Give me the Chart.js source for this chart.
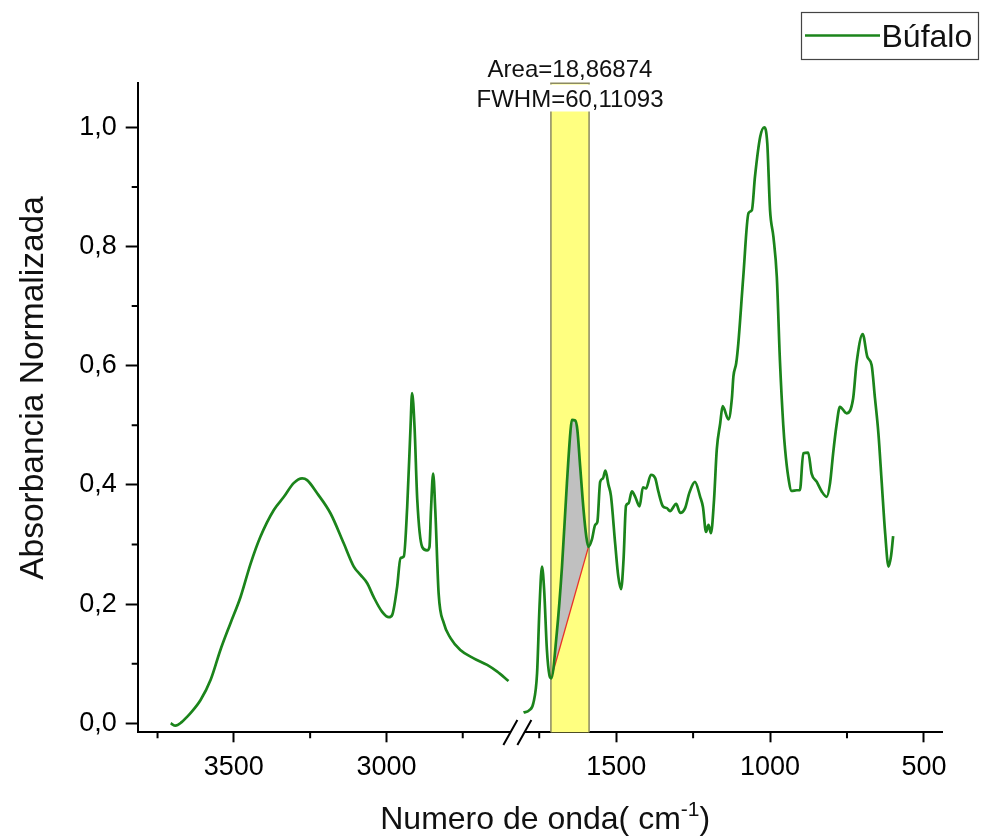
<!DOCTYPE html>
<html>
<head>
<meta charset="utf-8">
<script src="https://cdn.jsdelivr.net/npm/chart.js@4.4.1/dist/chart.umd.min.js"></script>
<style>
  html, body { margin: 0; padding: 0; background: #fff; }
  canvas { display: block; }
</style>
</head>
<body>
<canvas id="ftir" width="981" height="838"></canvas>
<script>
// espectro FTIR normalizado - region alta (O-H / C-H)
const waveHigh = [3707, 3691, 3671, 3655, 3642, 3609, 3576, 3544, 3511, 3478, 3445, 3413, 3369, 3336, 3304,
  3276, 3260, 3227, 3183, 3140, 3107, 3085, 3063, 3042, 3014, 2992, 2981, 2965, 2954, 2943,
  2932, 2921, 2916, 2908, 2899, 2883, 2867, 2859, 2854, 2847, 2840, 2829, 2812, 2790, 2758,
  2714, 2670, 2638, 2600]
const absHigh = [0.000, -0.004, 0.002, 0.010, 0.017, 0.039, 0.073, 0.123, 0.168, 0.212, 0.268, 0.313, 0.358, 0.380, 0.403,
  0.411, 0.408, 0.386, 0.352, 0.302, 0.263, 0.249, 0.235, 0.212, 0.187, 0.178, 0.182, 0.229, 0.277, 0.280,
  0.363, 0.498, 0.554, 0.498, 0.375, 0.296, 0.290, 0.296, 0.358, 0.419, 0.358, 0.218, 0.168, 0.143, 0.123,
  0.109, 0.098, 0.087, 0.071]

// region de huella digital
const waveLow = [1801, 1782, 1769, 1757, 1749, 1741, 1734, 1725, 1717, 1711, 1693, 1676, 1660, 1649, 1644,
  1633, 1626, 1617, 1606, 1597, 1590, 1579, 1568, 1561, 1552, 1543, 1535, 1525, 1517, 1503,
  1493, 1484, 1476, 1468, 1460, 1449, 1438, 1424, 1413, 1403, 1387, 1373, 1363, 1348, 1335,
  1325, 1305, 1292, 1276, 1262, 1244, 1227, 1218, 1208, 1200, 1192, 1182, 1173, 1162, 1154,
  1135, 1124, 1119, 1110, 1103, 1087, 1070, 1059, 1049, 1032, 1019, 1009, 1000, 989, 978,
  968, 957, 951, 941, 930, 913, 903, 892, 876, 865, 848, 832, 816, 805, 795,
  784, 773, 751, 730, 719, 699, 684, 670, 659, 648, 637, 626, 615, 607, 600]
const absLow = [0.018, 0.022, 0.034, 0.084, 0.196, 0.263, 0.224, 0.123, 0.081, 0.0755, 0.151, 0.263, 0.403, 0.487, 0.509,
  0.508, 0.492, 0.431, 0.358, 0.313, 0.296, 0.308, 0.333, 0.338, 0.405, 0.411, 0.424, 0.400, 0.382, 0.300,
  0.246, 0.225, 0.275, 0.365, 0.369, 0.389, 0.380, 0.364, 0.396, 0.394, 0.417, 0.411, 0.389, 0.364, 0.361,
  0.356, 0.368, 0.353, 0.361, 0.387, 0.405, 0.380, 0.363, 0.321, 0.333, 0.319, 0.375, 0.460, 0.503, 0.532,
  0.510, 0.545, 0.582, 0.604, 0.638, 0.749, 0.856, 0.861, 0.917, 0.984, 1.000, 0.973, 0.861, 0.816, 0.749,
  0.610, 0.500, 0.459, 0.414, 0.390, 0.391, 0.391, 0.453, 0.454, 0.419, 0.405, 0.389, 0.380, 0.403, 0.453,
  0.500, 0.531, 0.520, 0.545, 0.604, 0.653, 0.615, 0.601, 0.545, 0.487, 0.403, 0.319, 0.263, 0.280, 0.314]

// banda amida I integrada y su linea base
const bandEdges = [1712, 1588]
const baseWave = [1711, 1590]
const baseAbs = [0.0755, 0.296]
const peakLabels = ['Area=18,86874', 'FWHM=60,11093']

const yTicks = [0, 0.2, 0.4, 0.6, 0.8, 1.0]
const yMinor = [0.1, 0.3, 0.5, 0.7, 0.9]
const xTicksHigh = [3500, 3000]
const xMinorHigh = [3750, 3250, 2750]
const xTicksLow = [1500, 1000, 500]
const xMinorLow = [1750, 1250, 750]

const seriesName = 'Búfalo'
const green = '#1b841b'
const FONT = 'Arial, "Liberation Sans", sans-serif'

Chart.defaults.font.family = FONT
Chart.defaults.color = '#000'

const pts = (xs, ys) => xs.map((x, i) => ({ x: x, y: ys[i] }))
const peakIdx = waveLow.map((w, i) => i).filter(i => waveLow[i] <= baseWave[0] && waveLow[i] >= baseWave[1])

const xAxis = (ticks, min, max, weight) => ({
    type: 'linear',
    position: 'bottom',
    stack: 'onda',
    stackWeight: weight,
    reverse: true,
    min: min,
    max: max,
    afterBuildTicks: s => { s.ticks = ticks.map(v => ({ value: v })) },
    afterFit: s => { s.height = 105.7 },
    grid: { drawOnChartArea: false, tickLength: 10, tickWidth: 2, tickColor: '#000' },
    border: { color: '#000', width: 2 },
    ticks: { font: { size: 27 }, padding: 9, maxRotation: 0, callback: v => String(v) }
})

// marcas de corte del eje, ticks menores, banda, textos y leyenda
const decor = {
    id: 'decor',
    beforeDatasetsDraw(chart) {
        const { ctx, chartArea: a, scales } = chart
        const x1 = scales.xLow.getPixelForValue(bandEdges[0])
        const x2 = scales.xLow.getPixelForValue(bandEdges[1])
        ctx.save()
        ctx.fillStyle = '#ffff80'
        ctx.fillRect(x1, a.top, x2 - x1, a.bottom - a.top)
        ctx.strokeStyle = '#8c8a60'
        ctx.lineWidth = 1.5
        ctx.beginPath()
        ctx.moveTo(x1, a.bottom); ctx.lineTo(x1, a.top); ctx.lineTo(x2, a.top); ctx.lineTo(x2, a.bottom)
        ctx.stroke()
        ctx.restore()
    },
    afterDraw(chart) {
        const { ctx, chartArea: a, scales } = chart
        ctx.save()

        // ticks menores
        ctx.strokeStyle = '#000'
        ctx.lineWidth = 2
        ctx.beginPath()
        xMinorHigh.forEach(v => { const x = scales.xHigh.getPixelForValue(v); ctx.moveTo(x, a.bottom); ctx.lineTo(x, a.bottom + 6) })
        xMinorLow.forEach(v => { const x = scales.xLow.getPixelForValue(v); ctx.moveTo(x, a.bottom); ctx.lineTo(x, a.bottom + 6) })
        yMinor.forEach(v => { const y = scales.y.getPixelForValue(v); ctx.moveTo(a.left, y); ctx.lineTo(a.left - 6, y) })
        ctx.stroke()

        // corte del eje x
        const xc = scales.xHigh.right
        const y0 = a.bottom
        ctx.fillStyle = '#fff'
        ctx.fillRect(xc - 7, y0 - 2, 14, 4)
        ctx.beginPath()
        ;[-7, 7].forEach(dx => { ctx.moveTo(xc + dx - 7, y0 + 12.7); ctx.lineTo(xc + dx + 7, y0 - 12.3) })
        ctx.stroke()

        // etiqueta de la banda
        const bx = (scales.xLow.getPixelForValue(bandEdges[0]) + scales.xLow.getPixelForValue(bandEdges[1])) / 2
        ctx.font = '24px ' + FONT
        ctx.textAlign = 'center'
        ctx.textBaseline = 'alphabetic'
        const w = ctx.measureText(peakLabels[1]).width
        ctx.fillStyle = '#fff'
        ctx.fillRect(bx - w / 2 - 2, a.top + 1.2, w + 4, 27)
        ctx.fillStyle = '#111'
        ctx.fillText(peakLabels[0], bx, 77)
        ctx.fillText(peakLabels[1], bx, 107)

        // titulos de ejes
        ctx.font = '32px ' + FONT
        ctx.fillStyle = '#111'
        const main = 'Numero de onda( cm'
        const sup = '-1'
        const close = ')'
        const wm = ctx.measureText(main).width
        const wc = ctx.measureText(close).width
        ctx.font = '21px ' + FONT
        const ws = ctx.measureText(sup).width
        let tx = (a.left + a.right) / 2 + 5 - (wm + ws + wc) / 2
        const ty = 829
        ctx.textAlign = 'left'
        ctx.font = '32px ' + FONT
        ctx.fillText(main, tx, ty)
        ctx.font = '21px ' + FONT
        ctx.fillText(sup, tx + wm, ty - 13)
        ctx.font = '32px ' + FONT
        ctx.fillText(close, tx + wm + ws, ty)

        ctx.font = '33.5px ' + FONT
        ctx.translate(34, 388)
        ctx.rotate(-Math.PI / 2)
        ctx.textAlign = 'center'
        ctx.textBaseline = 'middle'
        ctx.fillText('Absorbancia Normalizada', 0, 0)
        ctx.setTransform(1, 0, 0, 1, 0, 0)

        // leyenda
        ctx.strokeStyle = '#444'
        ctx.lineWidth = 1.2
        ctx.strokeRect(801.5, 12.5, 177, 47)
        ctx.strokeStyle = green
        ctx.lineWidth = 2.5
        ctx.beginPath()
        ctx.moveTo(805, 35.5); ctx.lineTo(880, 35.5)
        ctx.stroke()
        ctx.fillStyle = '#111'
        ctx.textAlign = 'left'
        ctx.textBaseline = 'alphabetic'
        ctx.font = '32px ' + FONT
        ctx.fillText(chart.data.datasets[0].label, 881.5, 46.7)

        ctx.restore()
    }
}

new Chart(document.getElementById('ftir'), {
    type: 'line',
    data: {
        datasets: [{
            label: seriesName,
            data: pts(waveHigh, absHigh),
            xAxisID: 'xHigh',
            borderColor: green,
            borderWidth: 2.7,
            pointRadius: 0,
            cubicInterpolationMode: 'monotone',
            fill: false
        }, {
            label: seriesName,
            data: pts(waveLow, absLow),
            xAxisID: 'xLow',
            borderColor: green,
            borderWidth: 2.7,
            pointRadius: 0,
            cubicInterpolationMode: 'monotone',
            fill: false
        }, {
            label: 'linea base',
            data: pts(baseWave, baseAbs),
            xAxisID: 'xLow',
            borderColor: '#e8322a',
            borderWidth: 1.3,
            pointRadius: 0,
            fill: false
        }, {
            label: 'area',
            data: peakIdx.map(i => ({ x: waveLow[i], y: absLow[i] })),
            xAxisID: 'xLow',
            borderWidth: 0,
            borderColor: 'rgba(0,0,0,0)',
            backgroundColor: '#c0c0c0',
            pointRadius: 0,
            cubicInterpolationMode: 'monotone',
            fill: '-1'
        }]
    },
    options: {
        responsive: false,
        animation: false,
        devicePixelRatio: 1,
        layout: { padding: { top: 83.3, right: 38.3, left: 0, bottom: 0 } },
        plugins: {
            legend: { display: false },
            tooltip: { enabled: false }
        },
        scales: {
            xHigh: xAxis(xTicksHigh, 2571, 3815, 380),
            xLow: xAxis(xTicksLow, 439, 1821, 425.7),
            y: {
                type: 'linear',
                position: 'left',
                min: -0.0151,
                max: 1.0738,
                afterBuildTicks: s => { s.ticks = yTicks.map(v => ({ value: v })) },
                afterFit: s => { s.width = 137.7 },
                grid: { drawOnChartArea: false, tickLength: 12, tickWidth: 2, tickColor: '#000' },
                border: { color: '#000', width: 2 },
                ticks: { font: { size: 27 }, padding: 9, callback: v => v.toFixed(1).replace('.', ',') }
            }
        }
    },
    plugins: [decor]
})
</script>
</body>
</html>
